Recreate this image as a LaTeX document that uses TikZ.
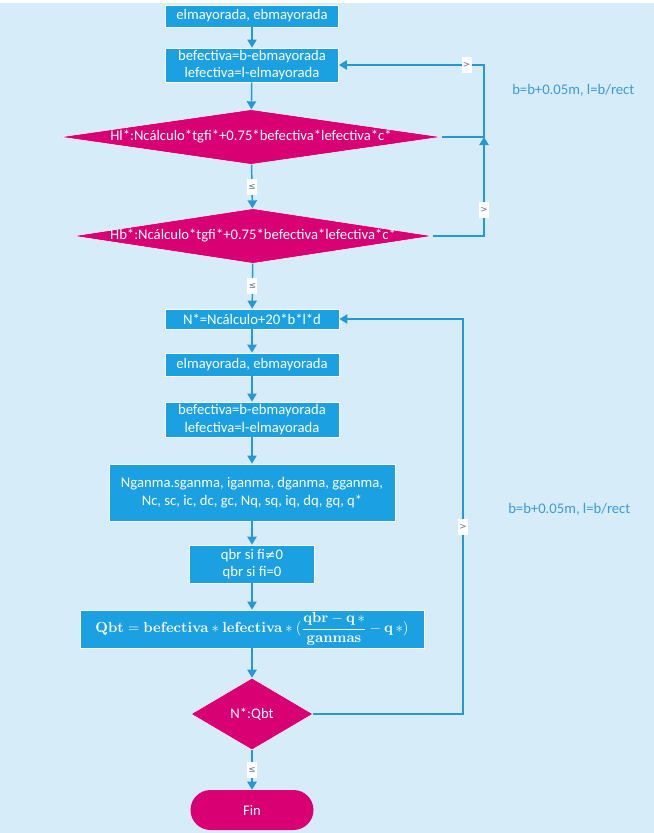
\documentclass[tikz,border=0pt]{standalone}
\usepackage[no-math]{fontspec}
\usepackage{amsmath}
\setmainfont{Carlito}
\newfontfamily\symf{DejaVu Sans}
\usetikzlibrary{shapes.geometric,arrows.meta,calc}
\definecolor{bgc}{RGB}{214,236,249}
\definecolor{boxc}{RGB}{27,161,226}
\definecolor{magc}{RGB}{216,0,115}
\definecolor{arrc}{RGB}{38,152,214}
\definecolor{lblc}{RGB}{90,115,145}
\definecolor{notec}{RGB}{60,155,215}
\newcommand{\qbtformula}{\ensuremath{\displaystyle\mathbf{Qbt}=\mathbf{befectiva}\ast\mathbf{lefectiva}\ast(\frac{\mathbf{qbr}-\mathbf{q}\,\ast}{\mathbf{ganmas}}-\mathbf{q}\,\ast)}}
\newcommand{\neqsym}{{\symf\fontsize{9.5}{10}\selectfont ≠}}
\tikzset{
  procbox/.style={rectangle, fill=boxc, draw=white, line width=0.6pt, text=white,
    font=\fontsize{11}{13}\selectfont, align=center, inner sep=0pt},
  decis/.style={diamond, fill=magc, draw=white, line width=0.4pt, text=white,
    font=\fontsize{11}{13}\selectfont, inner sep=0pt},
  termin/.style={rectangle, rounded corners=15pt, fill=magc, text=white,
    font=\fontsize{11}{13}\selectfont, inner sep=0pt},
  arr/.style={draw=arrc, line width=1.1pt, -{Triangle[width=7pt,length=6pt]}},
  lbl/.style={fill=white, text=lblc, font=\symf\fontsize{6.5}{7}\selectfont,
    inner sep=0pt, minimum width=7.5pt, minimum height=12pt},
  note/.style={text=notec, font=\fontsize{11}{13}\selectfont, anchor=west, inner sep=0pt}
}
\begin{document}
\begin{tikzpicture}[x=0.75pt,y=-0.75pt]
\useasboundingbox (0,0) rectangle (654,833);
\fill[white] (0,0) rectangle (654,3);
\fill[bgc] (0,3) rectangle (654,833);

\node[procbox, minimum width=129.75pt, minimum height=16.5pt] (b1) at (252,16) {elmayorada, ebmayorada};
\node[procbox, minimum width=129.75pt, minimum height=25.5pt] (b2) at (252,65) {befectiva=b-ebmayorada\\lefectiva=l-elmayorada};
\node[decis, minimum width=286.5pt, minimum height=41.25pt] (d1) at (251,137) {\makebox[0pt]{Hl*:Ncálculo*tgfi*+0.75*befectiva*lefectiva*c*}};
\node[decis, minimum width=270pt, minimum height=41.25pt] (d2) at (253,236) {\makebox[0pt]{Hb*:Ncálculo*tgfi*+0.75*befectiva*lefectiva*c*}};
\node[procbox, minimum width=130.5pt, minimum height=15pt] (b3) at (252,319) {N*=Ncálculo+20*b*l*d};
\node[procbox, minimum width=130.5pt, minimum height=17.25pt] (b4) at (252,364.5) {elmayorada, ebmayorada};
\node[procbox, minimum width=130.5pt, minimum height=26.25pt] (b5) at (252,419.5) {befectiva=b-ebmayorada\\lefectiva=l-elmayorada};
\node[procbox, minimum width=214.5pt, minimum height=42.75pt] (b6) at (252,492.5) {Nganma.sganma, iganma, dganma, gganma,\\Nc, sc, ic, dc, gc, Nq, sq, iq, dq, gq, q*};
\node[procbox, minimum width=93.75pt, minimum height=28.5pt] (b7) at (252,564) {qbr si fi\neqsym0\\qbr si fi=0};
\node[procbox, minimum width=258pt, minimum height=28.5pt] (b8) at (252,629) {\qbtformula};
\node[decis, minimum width=91.5pt, minimum height=54pt] (d3) at (252,714) {\makebox[0pt]{N*:Qbt}};
\node[termin, minimum width=92.25pt, minimum height=30pt] (fin) at (252,810) {Fin};

\node[note] (n1) at (512,90) {b=b+0.05m, l=b/rect};
\node[note] (n2) at (508,509) {b=b+0.05m, l=b/rect};

\coordinate (j1) at (484,137);
\coordinate (r2) at (463,319);

\draw[arr] (b1) -- (b2);
\draw[arr] (b2) -- (d1);
\draw[arr] (d1) -- node[lbl] {≤} (d2);
\draw[arr] (d2) -- node[lbl] {≤} (b3);
\draw[arr] (b3) -- (b4);
\draw[arr] (b4) -- (b5);
\draw[arr] (b5) -- (b6);
\draw[arr] (b6) -- (b7);
\draw[arr] (b7) -- (b8);
\draw[arr] (b8) -- (d3);
\draw[arr] (d3) -- node[lbl] {≤} (fin);

\draw[arr] (d2.east) -| node[lbl, pos=0.63] {>} (j1);
\draw[arr] (d1.east) -- (j1) |- node[lbl, pos=0.56] {>} (b2.east);
\draw[arr, line width=0.8pt] (d3.east) -| node[lbl, pos=0.737] {>} (r2) -- (b3.east);
\end{tikzpicture}
\end{document}
